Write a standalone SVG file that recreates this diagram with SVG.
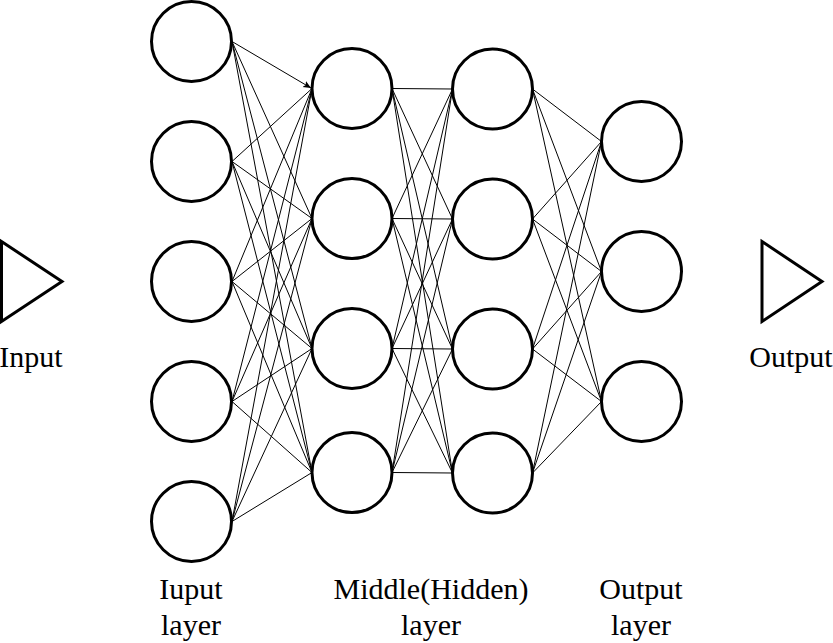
<svg xmlns="http://www.w3.org/2000/svg" width="833" height="643" viewBox="0 0 833 643">
<style>
.n{fill:#fff;stroke:#000;stroke-width:3}
.e{stroke:#000;stroke-width:1;fill:none}
.t{font-family:"Liberation Serif","Times New Roman",serif;font-size:30px;fill:#000;text-anchor:middle}
</style>
<defs>
<marker id="arr" markerWidth="10" markerHeight="10" refX="8" refY="4" orient="auto" markerUnits="userSpaceOnUse">
<path d="M0,0.5 L8,4 L0,7.5 L2,4 Z" fill="#000"/>
</marker>
</defs>
<rect width="833" height="643" fill="#fff"/>
<g id="connectors">
<line class="e" x1="232" y1="41.5" x2="311" y2="88" marker-end="url(#arr)"/>
<line class="e" x1="232" y1="41.5" x2="312" y2="218.5"/>
<line class="e" x1="232" y1="41.5" x2="312" y2="348.5"/>
<line class="e" x1="232" y1="41.5" x2="312" y2="472.5"/>
<line class="e" x1="232" y1="161.5" x2="312" y2="88.5"/>
<line class="e" x1="232" y1="161.5" x2="312" y2="218.5"/>
<line class="e" x1="232" y1="161.5" x2="312" y2="348.5"/>
<line class="e" x1="232" y1="161.5" x2="312" y2="472.5"/>
<line class="e" x1="232" y1="281.5" x2="312" y2="88.5"/>
<line class="e" x1="232" y1="281.5" x2="312" y2="218.5"/>
<line class="e" x1="232" y1="281.5" x2="312" y2="348.5"/>
<line class="e" x1="232" y1="281.5" x2="312" y2="472.5"/>
<line class="e" x1="232" y1="401.5" x2="312" y2="88.5"/>
<line class="e" x1="232" y1="401.5" x2="312" y2="218.5"/>
<line class="e" x1="232" y1="401.5" x2="312" y2="348.5"/>
<line class="e" x1="232" y1="401.5" x2="312" y2="472.5"/>
<line class="e" x1="232" y1="521.5" x2="312" y2="88.5"/>
<line class="e" x1="232" y1="521.5" x2="312" y2="218.5"/>
<line class="e" x1="232" y1="521.5" x2="312" y2="348.5"/>
<line class="e" x1="232" y1="521.5" x2="312" y2="472.5"/>

<line class="e" x1="392" y1="88.5" x2="452.5" y2="89"/>
<line class="e" x1="392" y1="88.5" x2="452.5" y2="219"/>
<line class="e" x1="392" y1="88.5" x2="452.5" y2="349"/>
<line class="e" x1="392" y1="88.5" x2="452.5" y2="473"/>
<line class="e" x1="392" y1="218.5" x2="452.5" y2="89"/>
<line class="e" x1="392" y1="218.5" x2="452.5" y2="219"/>
<line class="e" x1="392" y1="218.5" x2="452.5" y2="349"/>
<line class="e" x1="392" y1="218.5" x2="452.5" y2="473"/>
<line class="e" x1="392" y1="348.5" x2="452.5" y2="89"/>
<line class="e" x1="392" y1="348.5" x2="452.5" y2="219"/>
<line class="e" x1="392" y1="348.5" x2="452.5" y2="349"/>
<line class="e" x1="392" y1="348.5" x2="452.5" y2="473"/>
<line class="e" x1="392" y1="472.5" x2="452.5" y2="89"/>
<line class="e" x1="392" y1="472.5" x2="452.5" y2="219"/>
<line class="e" x1="392" y1="472.5" x2="452.5" y2="349"/>
<line class="e" x1="392" y1="472.5" x2="452.5" y2="473"/>

<line class="e" x1="532.5" y1="89" x2="601.5" y2="141.5"/>
<line class="e" x1="532.5" y1="89" x2="601.5" y2="271.5"/>
<line class="e" x1="532.5" y1="89" x2="601.5" y2="401.5"/>
<line class="e" x1="532.5" y1="219" x2="601.5" y2="141.5"/>
<line class="e" x1="532.5" y1="219" x2="601.5" y2="271.5"/>
<line class="e" x1="532.5" y1="219" x2="601.5" y2="401.5"/>
<line class="e" x1="532.5" y1="349" x2="601.5" y2="141.5"/>
<line class="e" x1="532.5" y1="349" x2="601.5" y2="271.5"/>
<line class="e" x1="532.5" y1="349" x2="601.5" y2="401.5"/>
<line class="e" x1="532.5" y1="473" x2="601.5" y2="141.5"/>
<line class="e" x1="532.5" y1="473" x2="601.5" y2="271.5"/>
<line class="e" x1="532.5" y1="473" x2="601.5" y2="401.5"/>
</g>

<g id="input-signal">
<polygon class="n" points="1.5,241.5 62,281.5 1.5,321.5"/>
<text class="t" x="31" y="367">Input</text>
</g>
<g id="output-signal">
<polygon class="n" points="762,241.5 822,281.5 762,321.5"/>
<text class="t" x="791" y="367">Output</text>
</g>

<g id="in-1"><circle class="n" cx="191.5" cy="41.5" r="40"/></g>
<g id="in-2"><circle class="n" cx="191.5" cy="161.5" r="40"/></g>
<g id="in-3"><circle class="n" cx="191.5" cy="281.5" r="40"/></g>
<g id="in-4"><circle class="n" cx="191.5" cy="401.5" r="40"/></g>
<g id="in-5"><circle class="n" cx="191.5" cy="521.5" r="40"/></g>

<g id="h1-1"><circle class="n" cx="352" cy="88.5" r="40"/></g>
<g id="h1-2"><circle class="n" cx="352" cy="218.5" r="40"/></g>
<g id="h1-3"><circle class="n" cx="352" cy="348.5" r="40"/></g>
<g id="h1-4"><circle class="n" cx="352" cy="472.5" r="40"/></g>

<g id="h2-1"><circle class="n" cx="492.5" cy="89" r="40"/></g>
<g id="h2-2"><circle class="n" cx="492.5" cy="219" r="40"/></g>
<g id="h2-3"><circle class="n" cx="492.5" cy="349" r="40"/></g>
<g id="h2-4"><circle class="n" cx="492.5" cy="473" r="40"/></g>

<g id="out-1"><circle class="n" cx="641.5" cy="141.5" r="40"/></g>
<g id="out-2"><circle class="n" cx="641.5" cy="271.5" r="40"/></g>
<g id="out-3"><circle class="n" cx="641.5" cy="401.5" r="40"/></g>

<g id="label-input-layer">
<text class="t" x="191" y="599">Iuput</text>
<text class="t" x="191" y="635">layer</text>
</g>
<g id="label-hidden-layer">
<text class="t" x="431" y="599">Middle(Hidden)</text>
<text class="t" x="431" y="635">layer</text>
</g>
<g id="label-output-layer">
<text class="t" x="641" y="599">Output</text>
<text class="t" x="641" y="635">layer</text>
</g>
</svg>
